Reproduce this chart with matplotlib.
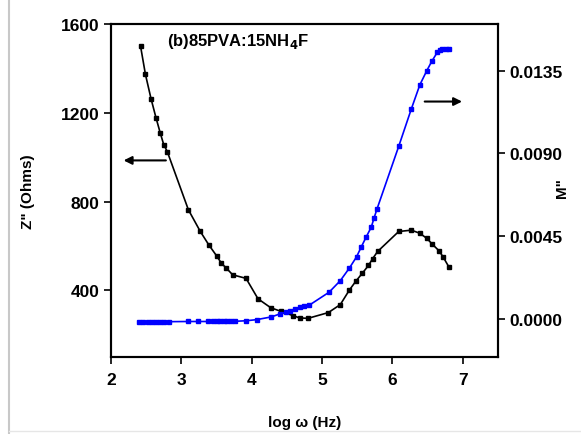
import numpy as np
import matplotlib
matplotlib.use("Agg")
import matplotlib.pyplot as plt

plt.rcParams['font.family'] = ['Liberation Sans', 'DejaVu Sans']
plt.rcParams['font.weight'] = 'bold'

# Z'' (left axis, black)
z_logw = [2.42, 2.49, 2.57, 2.64, 2.70, 2.75, 2.80, 3.10, 3.27, 3.39, 3.50, 3.57,
          3.64, 3.73, 3.92, 4.09, 4.27, 4.41, 4.59, 4.68, 4.80, 5.09, 5.26, 5.39,
          5.48, 5.57, 5.66, 5.72, 5.79, 6.09, 6.27, 6.39, 6.49, 6.57, 6.66, 6.72, 6.80]
z_imag = [1500, 1372, 1262, 1177, 1109, 1056, 1025, 763, 665, 605, 556, 522,
          500, 470, 454, 362, 322, 306, 286, 276, 274, 300, 336, 402,
          441, 476, 512, 543, 575, 665, 671, 657, 634, 607, 579, 551, 507]

# M'' (right axis, blue)
m_logw = [2.40, 2.46, 2.52, 2.58, 2.64, 2.70, 2.76, 2.82, 3.10, 3.24, 3.38, 3.45,
          3.50, 3.55, 3.60, 3.65, 3.70, 3.76, 3.92, 4.07, 4.28, 4.40, 4.49, 4.55,
          4.62, 4.68, 4.75, 4.82, 5.10, 5.26, 5.39, 5.49, 5.56, 5.63, 5.70, 5.74,
          5.78, 6.09, 6.27, 6.39, 6.49, 6.56, 6.64, 6.68, 6.71, 6.76, 6.80]
m_imag = [-0.00015, -0.00015, -0.00015, -0.00015, -0.00015, -0.00015, -0.00015, -0.00015,
          -0.00014, -0.00014, -0.00014, -0.00014, -0.00014, -0.00014, -0.00014, -0.00014,
          -0.00013, -0.00013, -0.00010, -0.00004, 0.00011, 0.00027, 0.00036, 0.00045,
          0.00055, 0.00063, 0.00070, 0.00075, 0.00145, 0.00208, 0.00277, 0.00337,
          0.00393, 0.00447, 0.00499, 0.00549, 0.00596, 0.00938, 0.01142, 0.01272,
          0.01350, 0.01400, 0.01450, 0.01462, 0.01468, 0.01468, 0.01468]

x_ticks = [2, 3, 4, 5, 6, 7]
z_ticks = [400, 800, 1200, 1600]
m_ticks = [0.0, 0.0045, 0.0090, 0.0135]

fig = plt.figure(figsize=(5.81, 4.35), dpi=100)
ax = fig.add_axes([0.191, 0.177, 0.666, 0.766])
ax2 = ax.twinx()

ax.plot(z_logw, z_imag, color='black', marker='s', markersize=3.5, linewidth=1.2)
ax2.plot(m_logw, m_imag, color='blue', marker='s', markersize=3.5, linewidth=1.2)

ax.set_xlim(2, 7.5)
ax.set_ylim(100, 1600)
ax2.set_ylim(-0.00207, 0.01604)

ax.set_xticks(x_ticks)
ax.set_yticks(z_ticks)
ax2.set_yticks(m_ticks)
ax2.set_yticklabels([f"{v:.4f}" for v in m_ticks])

for a in (ax, ax2):
    for s in a.spines.values():
        s.set_linewidth(1.5)
    a.tick_params(direction='out', length=5, width=1.2, labelsize=12.5)
ax.tick_params(axis='x', pad=6)

ax.set_xlabel("log \u03c9 (Hz)", fontsize=11, fontweight='bold', labelpad=20)
ax.set_ylabel('Z" (Ohms)', fontsize=11, fontweight='bold', labelpad=18)
ax2.set_ylabel('M"', fontsize=11, fontweight='bold')
ax2.yaxis.set_label_coords(1.147, 0.51)

ax.text(2.8, 1525, "(b)85PVA:15NH$_\\mathbf{4}$F", fontsize=12, fontweight='bold',
        va='center', ha='left')

ax.annotate('', xy=(2.14, 985), xytext=(2.82, 985),
            arrowprops=dict(arrowstyle='-|>', color='black', lw=1.5, mutation_scale=12))
ax.annotate('', xy=(7.03, 1250), xytext=(6.42, 1250),
            arrowprops=dict(arrowstyle='-|>', color='black', lw=1.5, mutation_scale=12))

# frame lines of the original picture
fig.add_artist(plt.Line2D([0.016, 0.016], [0.0, 1.0], color='#c8c8c8', lw=1.5))
fig.add_artist(plt.Line2D([0.016, 1.0], [0.006, 0.006], color='#e6e6e6', lw=1))

fig.savefig("out.png", dpi=100)
